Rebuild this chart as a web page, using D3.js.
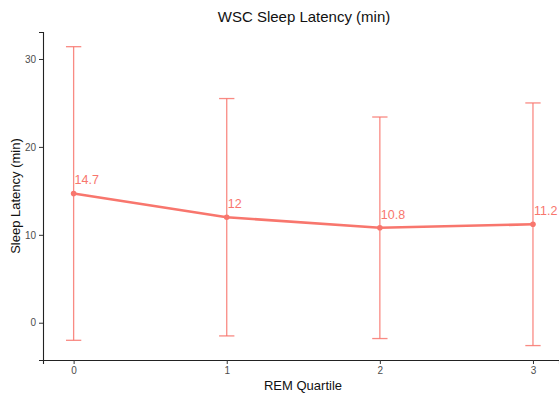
<!DOCTYPE html>
<html>
<head>
<meta charset="utf-8">
<script src="https://cdn.jsdelivr.net/npm/d3@7"></script>
<style>
  body { margin: 0; background: #fff; }
  svg { display: block; font-family: "Liberation Sans", Arial, sans-serif; }
</style>
</head>
<body>
<svg width="559" height="398"></svg>
<script>
// values
const quartiles = [0, 1, 2, 3]
const latency = [14.7, 12.0, 10.8, 11.2]
const upper = [31.4, 25.5, 23.4, 25.0]
const lower = [-2.0, -1.5, -1.8, -2.6]
const labels = ['14.7', '12', '10.8', '11.2']
const yTicks = [0, 10, 20, 30]

const svg = d3.select('svg')
const color = '#F8766D'
const plotLeft = 43, plotRight = 559, plotTop = 32, plotBottom = 360

const x = d3.scaleLinear().domain([-0.2, 3.17]).range([plotLeft, plotRight])
const y = d3.scaleLinear().domain([-4.24, 33.07]).range([plotBottom, plotTop])

const data = quartiles.map((q, i) => ({
  q, v: latency[i], hi: upper[i], lo: lower[i], label: labels[i],
}))

// axes
const xAxis = svg.append('g')
  .attr('transform', `translate(0,${plotBottom})`)
  .call(d3.axisBottom(x).tickValues(quartiles).tickFormat(d3.format('d')).tickSizeOuter(0).tickSize(4).tickPadding(3))
const yAxis = svg.append('g')
  .attr('transform', `translate(${plotLeft},0)`)
  .call(d3.axisLeft(y).tickValues(yTicks).tickSizeOuter(0).tickSize(4).tickPadding(3))

for (const ax of [xAxis, yAxis]) {
  ax.select('.domain').attr('stroke', '#222').attr('stroke-width', 1.1)
  ax.selectAll('.tick line').attr('stroke', '#333')
  ax.selectAll('.tick text').attr('fill', '#4d4d4d').style('font-size', '10px')
}

// error bars
const eb = svg.append('g')
  .attr('stroke', color)
  .attr('stroke-opacity', 0.85)
  .attr('stroke-width', 1.3)
eb.selectAll('line.v').data(data).join('line')
  .attr('class', 'v')
  .attr('x1', d => x(d.q)).attr('x2', d => x(d.q))
  .attr('y1', d => y(d.hi)).attr('y2', d => y(d.lo))
for (const key of ['hi', 'lo']) {
  eb.selectAll('line.cap-' + key).data(data).join('line')
    .attr('class', 'cap-' + key)
    .attr('x1', d => x(d.q - 0.05)).attr('x2', d => x(d.q + 0.05))
    .attr('y1', d => y(d[key])).attr('y2', d => y(d[key]))
}

// mean line
const line = d3.line().x(d => x(d.q)).y(d => y(d.v))
svg.append('path')
  .datum(data)
  .attr('d', line)
  .attr('fill', 'none')
  .attr('stroke', color)
  .attr('stroke-width', 2.6)
  .attr('stroke-linejoin', 'round')

svg.append('g').selectAll('circle').data(data).join('circle')
  .attr('cx', d => x(d.q))
  .attr('cy', d => y(d.v))
  .attr('r', 2.8)
  .attr('fill', color)

// value labels
svg.append('g').selectAll('text').data(data).join('text')
  .attr('x', d => x(d.q) + 1)
  .attr('y', d => y(d.v) - 9)
  .attr('fill', color)
  .style('font-size', '12.5px')
  .text(d => d.label)

// titles
svg.append('text')
  .attr('x', 304).attr('y', 22)
  .attr('text-anchor', 'middle')
  .style('font-size', '15px')
  .attr('fill', '#111')
  .text('WSC Sleep Latency (min)')

svg.append('text')
  .attr('x', 303).attr('y', 390)
  .attr('text-anchor', 'middle')
  .style('font-size', '13px')
  .attr('fill', '#111')
  .text('REM Quartile')

svg.append('text')
  .attr('transform', `translate(20,${(plotTop + plotBottom) / 2}) rotate(-90)`)
  .attr('text-anchor', 'middle')
  .style('font-size', '13px')
  .attr('fill', '#111')
  .text('Sleep Latency (min)')
</script>
</body>
</html>
